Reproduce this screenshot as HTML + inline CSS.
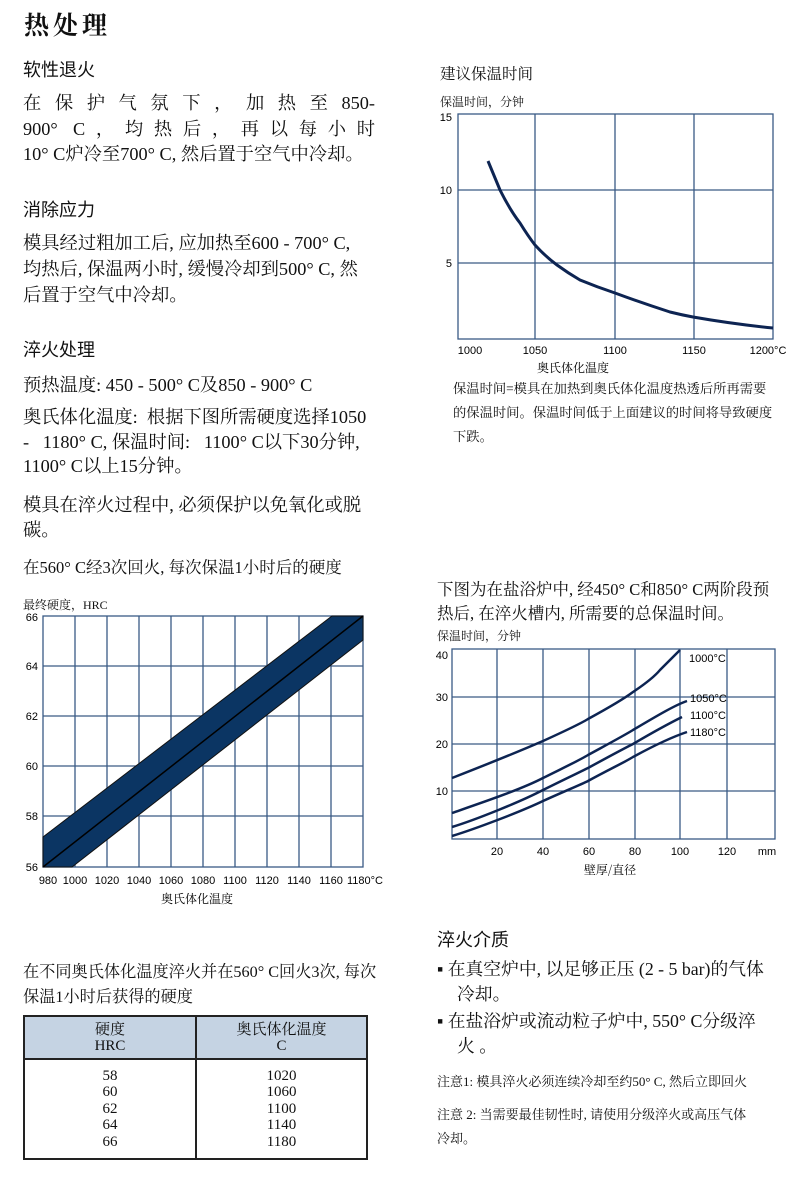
<!DOCTYPE html>
<html><head><meta charset="utf-8"><style>
body{margin:0;width:800px;height:1195px;position:relative;background:#fff;color:#111;font-family:"Liberation Serif","Noto Serif CJK SC",serif;overflow:hidden}
.a{position:absolute;white-space:nowrap}
.h{font-family:"Liberation Sans","Noto Sans CJK SC",sans-serif;font-size:18px}
.b{font-size:18.3px}
.j{text-align:justify;text-align-last:justify;white-space:normal}
.s{font-size:12px}
.n{font-size:13.3px}
svg{position:absolute;left:0;top:0}
table{position:absolute;left:23px;top:1015px;width:345px;border-collapse:collapse;font-size:15px;text-align:center}
td{border:2px solid #222;padding:0}
</style></head><body>
<div class="a" style="left:24px;top:6px;font-size:25px;font-weight:bold;letter-spacing:4px">热处理</div>
<div class="a h" style="left:23px;top:56px">软性退火</div>
<div class="a b j" style="left:23px;top:89px;width:352px">在保护气氛下，加热至850-</div>
<div class="a b j" style="left:23px;top:115px;width:352px">900° C，均热后，再以每小时</div>
<div class="a b" style="left:23px;top:140px">10° C炉冷至700° C, 然后置于空气中冷却。</div>
<div class="a h" style="left:23px;top:196px">消除应力</div>
<div class="a b" style="left:23px;top:229px">模具经过粗加工后, 应加热至600 - 700° C,</div>
<div class="a b" style="left:23px;top:255px">均热后, 保温两小时, 缓慢冷却到500° C, 然</div>
<div class="a b" style="left:23px;top:281px">后置于空气中冷却。</div>
<div class="a h" style="left:23px;top:336px">淬火处理</div>
<div class="a b" style="left:23px;top:371px">预热温度: 450 - 500° C及850 - 900° C</div>
<div class="a b" style="left:23px;top:403px">奥氏体化温度:&nbsp; 根据下图所需硬度选择1050</div>
<div class="a b" style="left:23px;top:428px">-&nbsp;&nbsp; 1180° C, 保温时间:&nbsp;&nbsp; 1100° C以下30分钟,</div>
<div class="a b" style="left:23px;top:452px">1100° C以上15分钟。</div>
<div class="a b" style="left:23px;top:491px">模具在淬火过程中, 必须保护以免氧化或脱</div>
<div class="a b" style="left:23px;top:516px">碳。</div>
<div class="a" style="left:23px;top:554px;font-size:16.5px">在560° C经3次回火, 每次保温1小时后的硬度</div>
<div class="a s" style="left:23px;top:596px">最终硬度，HRC</div>
<div class="a" style="left:23px;top:958px;font-size:16.2px">在不同奥氏体化温度淬火并在560° C回火3次, 每次</div>
<div class="a" style="left:23px;top:983px;font-size:16.2px">保温1小时后获得的硬度</div>
<table><tr style="background:#c5d3e3;height:43px;line-height:16px"><td style="width:170px">硬度<br>HRC</td><td>奥氏体化温度<br>C</td></tr>
<tr style="height:100px;line-height:16.5px;vertical-align:middle"><td>58<br>60<br>62<br>64<br>66</td><td>1020<br>1060<br>1100<br>1140<br>1180</td></tr></table>

<div class="a" style="left:440px;top:62px;font-size:15.5px">建议保温时间</div>
<div class="a s" style="left:440px;top:93px">保温时间，分钟</div>
<div class="a n" style="left:453px;top:378px">保温时间=模具在加热到奥氏体化温度热透后所再需要</div>
<div class="a n" style="left:453px;top:402px">的保温时间。保温时间低于上面建议的时间将导致硬度</div>
<div class="a n" style="left:453px;top:426px">下跌。</div>
<div class="a" style="left:437px;top:576px;font-size:16.5px">下图为在盐浴炉中, 经450° C和850° C两阶段预</div>
<div class="a" style="left:437px;top:600px;font-size:16.5px">热后, 在淬火槽内, 所需要的总保温时间。</div>
<div class="a s" style="left:437px;top:627px">保温时间，分钟</div>
<div class="a h" style="left:437px;top:926px">淬火介质</div>
<div class="a" style="left:437px;top:956px;font-size:17.8px">▪ 在真空炉中, 以足够正压 (2 - 5 bar)的气体</div>
<div class="a" style="left:457px;top:981px;font-size:17.8px">冷却。</div>
<div class="a" style="left:437px;top:1008px;font-size:17.8px">▪ 在盐浴炉或流动粒子炉中, 550° C分级淬</div>
<div class="a" style="left:457px;top:1033px;font-size:17.8px">火 。</div>
<div class="a" style="left:437px;top:1071px;font-size:13px">注意1: 模具淬火必须连续冷却至约50° C, 然后立即回火</div>
<div class="a" style="left:437px;top:1104px;font-size:13px">注意 2: 当需要最佳韧性时, 请使用分级淬火或高压气体</div>
<div class="a" style="left:437px;top:1128px;font-size:13px">冷却。</div>

<svg width="800" height="1195" font-family="Liberation Sans,sans-serif" font-size="11">
<g stroke="#3a5a85" stroke-width="1.3" fill="none">
<rect x="458" y="114" width="315" height="225"/>
<line x1="535" y1="114" x2="535" y2="339"/><line x1="615" y1="114" x2="615" y2="339"/><line x1="694" y1="114" x2="694" y2="339"/>
<line x1="458" y1="190" x2="773" y2="190"/><line x1="458" y1="263" x2="773" y2="263"/>
</g>
<path d="M488,161 L500,190 Q510,210 520,223 Q528,236 535,245 Q546,257 557,265 Q568,273 580,280 Q597,287 615,293 Q642,303 670,312 Q682,315 693,317 Q733,324 773,328" fill="none" stroke="#0d2452" stroke-width="3"/>
<g text-anchor="end"><text x="452" y="121">15</text><text x="452" y="194">10</text><text x="452" y="267">5</text></g>
<g text-anchor="middle"><text x="470" y="354">1000</text><text x="535" y="354">1050</text><text x="615" y="354">1100</text><text x="694" y="354">1150</text><text x="768" y="354">1200°C</text></g>
<text x="573" y="372" font-family="Noto Serif CJK SC,serif" font-size="12" text-anchor="middle">奥氏体化温度</text>

<g stroke="#3a5a85" stroke-width="1.3" fill="none">
<rect x="43" y="616" width="320" height="251"/>
<line x1="75" y1="616" x2="75" y2="867"/><line x1="107" y1="616" x2="107" y2="867"/><line x1="139" y1="616" x2="139" y2="867"/><line x1="171" y1="616" x2="171" y2="867"/><line x1="203" y1="616" x2="203" y2="867"/><line x1="235" y1="616" x2="235" y2="867"/><line x1="267" y1="616" x2="267" y2="867"/><line x1="299" y1="616" x2="299" y2="867"/><line x1="331" y1="616" x2="331" y2="867"/>
<line x1="43" y1="666" x2="363" y2="666"/><line x1="43" y1="716" x2="363" y2="716"/><line x1="43" y1="766" x2="363" y2="766"/><line x1="43" y1="816" x2="363" y2="816"/>
</g>
<polygon points="43,837 43,867 72,867 363,640 363,616 332,616" fill="#0b3563" stroke="#111" stroke-width="1"/>
<line x1="43" y1="867" x2="363" y2="616" stroke="#000" stroke-width="1.5"/>
<g text-anchor="end"><text x="38" y="621">66</text><text x="38" y="670">64</text><text x="38" y="720">62</text><text x="38" y="770">60</text><text x="38" y="820">58</text><text x="38" y="871">56</text></g>
<g text-anchor="middle"><text x="48" y="884">980</text><text x="75" y="884">1000</text><text x="107" y="884">1020</text><text x="139" y="884">1040</text><text x="171" y="884">1060</text><text x="203" y="884">1080</text><text x="235" y="884">1100</text><text x="267" y="884">1120</text><text x="299" y="884">1140</text><text x="331" y="884">1160</text><text x="365" y="884">1180°C</text></g>
<text x="197" y="903" font-family="Noto Serif CJK SC,serif" font-size="12" text-anchor="middle">奥氏体化温度</text>

<g stroke="#3a5a85" stroke-width="1.3" fill="none">
<rect x="452" y="649" width="323" height="190"/>
<line x1="497" y1="649" x2="497" y2="839"/><line x1="543" y1="649" x2="543" y2="839"/><line x1="589" y1="649" x2="589" y2="839"/><line x1="635" y1="649" x2="635" y2="839"/><line x1="680" y1="649" x2="680" y2="839"/><line x1="727" y1="649" x2="727" y2="839"/>
<line x1="452" y1="697" x2="775" y2="697"/><line x1="452" y1="744" x2="775" y2="744"/><line x1="452" y1="791" x2="775" y2="791"/>
</g>
<g fill="none" stroke="#0d2452" stroke-width="2.5">
<path d="M452,778 C475,769 520,751 543,741 C565,731 580,724 588,719 C610,707 625,698 633,692 C645,684 655,676 660,670 C668,662 675,655 680,650"/>
<path d="M452,813 C475,805 520,790 543,778 C565,767 580,760 588,755 C610,743 625,735 633,730 C655,717 675,705 687,701"/>
<path d="M452,827 C475,820 520,802 543,790 C565,779 580,772 588,768 C610,756 625,748 633,744 C655,731 670,723 682,717"/>
<path d="M452,836 C475,829 520,812 543,801 C565,791 580,785 588,781 C610,769 625,762 633,757 C655,745 675,736 687,732"/>
</g>
<g font-size="11"><text x="689" y="662">1000°C</text><text x="690" y="702">1050°C</text><text x="690" y="719">1100°C</text><text x="690" y="736">1180°C</text></g>
<g text-anchor="end"><text x="448" y="659">40</text><text x="448" y="701">30</text><text x="448" y="748">20</text><text x="448" y="795">10</text></g>
<g text-anchor="middle"><text x="497" y="855">20</text><text x="543" y="855">40</text><text x="589" y="855">60</text><text x="635" y="855">80</text><text x="680" y="855">100</text><text x="727" y="855">120</text><text x="767" y="855">mm</text></g>
<text x="610" y="874" font-family="Noto Serif CJK SC,serif" font-size="12" text-anchor="middle">壁厚/直径</text>
</svg>
</body></html>
